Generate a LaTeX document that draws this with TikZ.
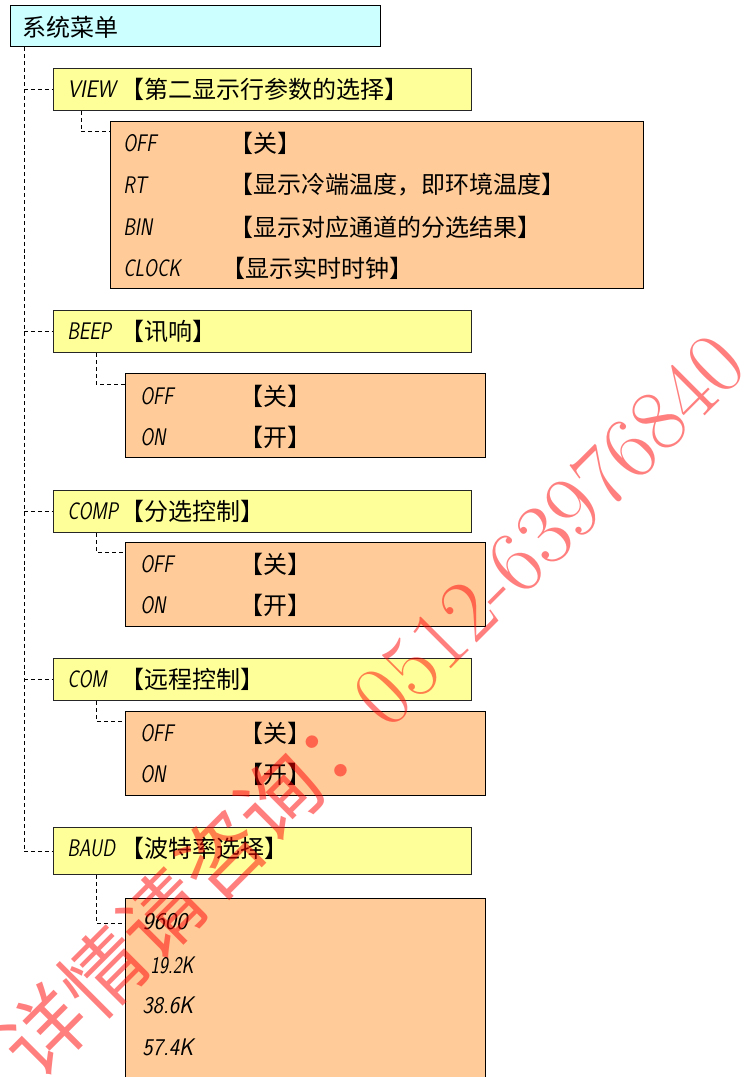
\documentclass[tikz,border=0pt]{standalone}
\usepackage{fontspec}
\usepackage{graphicx}
\newfontfamily\cjk{Noto Sans CJK SC}
\definecolor{rootfill}{HTML}{CCFFFF}
\definecolor{yfill}{HTML}{FFFF99}
\definecolor{ofill}{HTML}{FFCC99}
\newcommand{\lcd}[1]{{\sffamily\slshape\scalebox{0.78}[1]{#1}}}
\newcommand{\lcdw}[2]{{\sffamily\slshape\scalebox{#1}[1]{#2}}}
\begin{document}
\begin{tikzpicture}[x=0.75pt,y=-0.75pt,
  box/.style={draw=black, line width=1.1pt, anchor=north west, inner sep=0pt},
  rootbox/.style={box, fill=rootfill},
  ybox/.style={box, fill=yfill, draw=black!85, minimum width=418*0.75pt, minimum height=42*0.75pt},
  obox/.style={box, fill=ofill, minimum width=360*0.75pt, minimum height=84*0.75pt},
  dline/.style={dash pattern=on 3pt off 2.2pt, line width=0.75pt},
  cj/.style={anchor=west, inner sep=0pt, font=\cjk\fontsize{18}{20}\selectfont},
  lc/.style={anchor=west, inner sep=0pt, font=\fontsize{18}{20}\selectfont},
  wm/.style={rotate=45, text=red, text opacity=0.5, inner sep=0pt, font=\fontsize{66}{66}\selectfont},
]
\clip (0,0) rectangle (748,1077);
% boxes
\node[rootbox, minimum width=370*0.75pt, minimum height=41*0.75pt] (root) at (10,5) {};
\node[ybox] (view) at (53,68) {};
\node[box, fill=ofill, minimum width=533*0.75pt, minimum height=167*0.75pt] (viewsub) at (110,121) {};
\node[ybox] (beep) at (53,310) {};
\node[obox] (beepsub) at (125,373) {};
\node[ybox] (comp) at (53,490) {};
\node[obox] (compsub) at (125,542) {};
\node[ybox] (com) at (53,658) {};
\node[obox] (comsub) at (125,711) {};
\node[ybox, minimum height=47*0.75pt] (baud) at (53,827) {};
\node[obox, minimum height=200*0.75pt] (baudsub) at (125,898) {};
% connectors
\coordinate (rt) at (24,0);
\coordinate (rb) at (24,851);
\draw[dline] (root.south -| rt) -- (rb);
\foreach \n in {view,beep,comp,com,baud}{\draw[dline] (\n.west -| rt) -- (\n.west);}
\coordinate (vk) at (81,132);
\draw[dline] (view.south -| vk) -- (vk) -- (viewsub.west |- vk);
\coordinate (bk) at (96,384);
\draw[dline] (beep.south -| bk) -- (bk) -- (beepsub.west |- bk);
\coordinate (ck) at (96,552);
\draw[dline] (comp.south -| ck) -- (ck) -- (compsub.west |- ck);
\coordinate (mk) at (96,721);
\draw[dline] (com.south -| mk) -- (mk) -- (comsub.west |- mk);
\coordinate (dk) at (96,923);
\draw[dline] (baud.south -| dk) -- (dk) -- (baudsub.west |- dk);
% texts
\node[cj] (t0) at (22,27) {系统菜单};
\node[lc] (l1) at (67,89) {\lcdw{0.86}{VIEW}};
\node[cj] (c1) at (120,89) {【第二显示行参数的选择】};
\node[lc] (v1) at (123,143) {\lcd{OFF}};
\node[cj] (v1c) at (229,143) {【关】};
\node[lc] (v2) at (123,185) {\lcd{RT}};
\node[cj] (v2c) at (229,185) {【显示冷端温度，即环境温度】};
\node[lc] (v3) at (123,227) {\lcd{BIN}};
\node[cj] (v3c) at (229,227) {【显示对应通道的分选结果】};
\node[lc] (v4) at (123,268) {\lcd{CLOCK}};
\node[cj] (v4c) at (221,268) {【显示实时时钟】};
\node[lc] (l2) at (67,331) {\lcd{BEEP}};
\node[cj] (c2) at (120,331) {【讯响】};
\node[lc] (b1) at (140,396) {\lcd{OFF}};
\node[cj] (b1c) at (239,396) {【关】};
\node[lc] (b2) at (140,437) {\lcd{ON}};
\node[cj] (b2c) at (239,437) {【开】};
\node[lc] (l3) at (67,511) {\lcd{COMP}};
\node[cj] (c3) at (120,511) {【分选控制】};
\node[lc] (p1) at (140,564) {\lcd{OFF}};
\node[cj] (p1c) at (239,564) {【关】};
\node[lc] (p2) at (140,605) {\lcd{ON}};
\node[cj] (p2c) at (239,605) {【开】};
\node[lc] (l4) at (67,679) {\lcd{COM}};
\node[cj] (c4) at (120,679) {【远程控制】};
\node[lc] (m1) at (140,733) {\lcd{OFF}};
\node[cj] (m1c) at (239,733) {【关】};
\node[lc] (m2) at (140,774) {\lcd{ON}};
\node[cj] (m2c) at (239,774) {【开】};
\node[lc] (l5) at (67,848) {\lcd{BAUD}};
\node[cj] (c5) at (120,848) {【波特率选择】};
\node[lc] (d1) at (142,922) {\lcdw{1.0}{9600}};
\node[lc] (d2) at (150,965) {\lcd{19.2K}};
\node[lc] (d3) at (142,1005) {\lcdw{0.92}{38.6K}};
\node[lc] (d4) at (142,1047) {\lcdw{0.92}{57.4K}};
% watermark
\node[wm] (wmark) at (372,704) {{\cjk\fontsize{62}{62}\selectfont 详情请咨询：}0512-63976840};
\end{tikzpicture}
\end{document}
